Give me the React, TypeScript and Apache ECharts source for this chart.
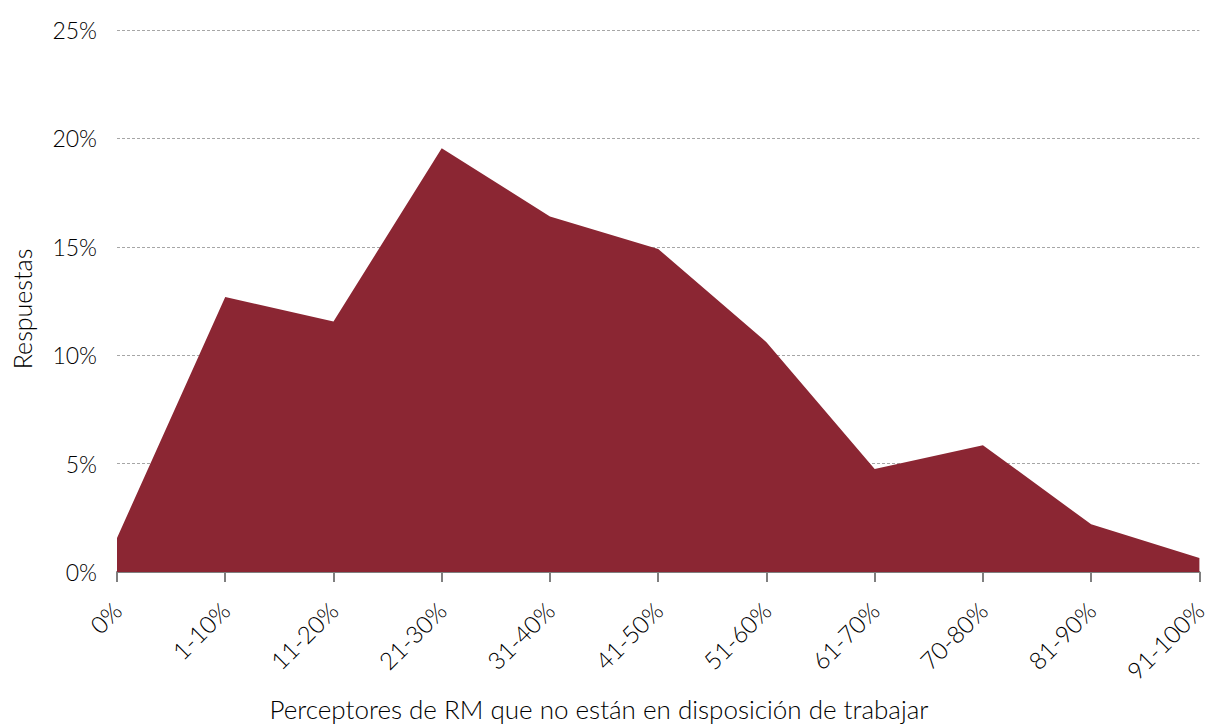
import React, { useEffect, useRef } from "react";
import * as echarts from "echarts";

const categories = ["0%", "1-10%", "11-20%", "21-30%", "31-40%", "41-50%", "51-60%", "61-70%", "70-80%", "81-90%", "91-100%"];
const respuestas = [1.57, 12.68, 11.55, 19.55, 16.4, 14.9, 10.6, 4.75, 5.85, 2.2, 0.65];
const yTicks = [0, 5, 10, 15, 20, 25];
const xAxisTitle = "Perceptores de RM que no están en disposición de trabajar";
const yAxisTitle = "Respuestas";

const FONT = "Lato";
const TEXT = "#000000";
const FILL = "#8b2633";

export default function App() {
  const ref = useRef<HTMLDivElement>(null);
  useEffect(() => {
    const chart = echarts.init(ref.current!, null, { renderer: "svg" });
    chart.setOption({
      animation: false,
      textStyle: { fontFamily: FONT, fontWeight: 300 },
      grid: { left: 117, right: 5, top: 30, bottom: 153, containLabel: false },
      graphic: [
        {
          type: "text",
          x: 599,
          y: 709,
          style: { text: xAxisTitle, font: `300 26px ${FONT}`, fill: TEXT, align: "center", verticalAlign: "middle" },
        },
        {
          type: "text",
          x: 22,
          y: 309,
          rotation: Math.PI / 2,
          style: { text: yAxisTitle, font: `300 25px ${FONT}`, fill: TEXT, align: "center", verticalAlign: "middle" },
        },
      ],
      xAxis: {
        type: "category",
        data: categories,
        boundaryGap: false,
        axisLine: { show: true, lineStyle: { color: "#7f7f7f", width: 2 } },
        axisTick: { show: true, alignWithLabel: true, length: 10, lineStyle: { color: "#7f7f7f", width: 2 } },
        axisLabel: { rotate: 45, fontSize: 24, fontWeight: 300, color: TEXT, margin: 34, interval: 0, fontFamily: FONT },
        splitLine: { show: false },
      },
      yAxis: {
        type: "value",
        min: yTicks[0],
        max: yTicks[yTicks.length - 1],
        interval: 5,
        axisLine: { show: false },
        axisTick: { show: false },
        axisLabel: { formatter: "{value}%", fontSize: 23, fontWeight: 300, color: TEXT, margin: 20, fontFamily: FONT },
        splitLine: { show: true, lineStyle: { color: "#a6a6a6", type: [3, 2], width: 1 } },
      },
      series: [
        {
          type: "line",
          data: respuestas,
          symbol: "none",
          lineStyle: { width: 0, color: FILL },
          itemStyle: { color: FILL },
          areaStyle: { color: FILL, opacity: 1 },
          z: 1,
        },
      ],
    });
    return () => chart.dispose();
  }, []);
  return (
    <>
      <style>{`html,body{margin:0;padding:0;overflow:hidden}`}</style>
      <div ref={ref} style={{ width: "100vw", height: "100vh" }} />
    </>
  );
}
